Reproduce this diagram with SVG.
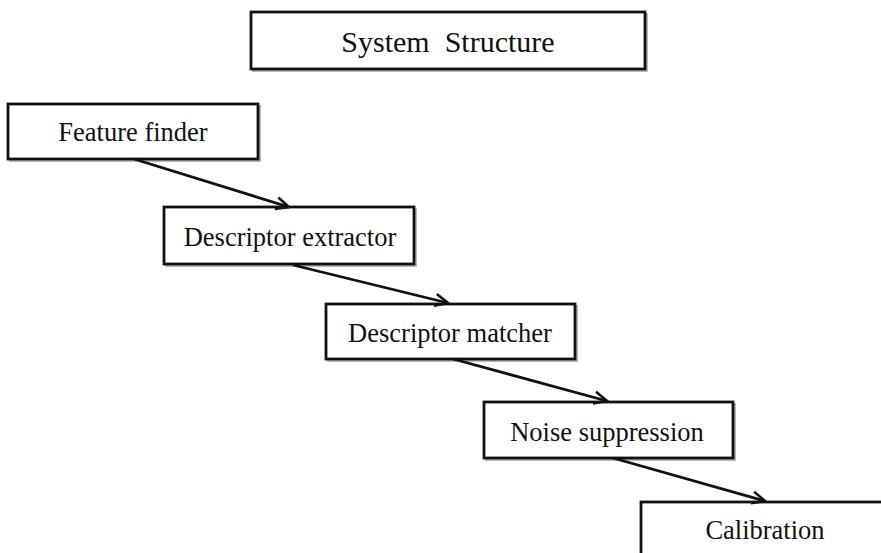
<svg xmlns="http://www.w3.org/2000/svg" width="881" height="553" viewBox="0 0 881 553">
  <style>
    .box { fill: #ffffff; stroke: #111111; stroke-width: 2.8; }
    .shadow { fill: none; stroke: #9a9a9a; stroke-width: 2; opacity: 0.7; }
    .label { font-family: "Liberation Serif", "Times New Roman", serif; font-size: 26.5px; fill: #111111; text-anchor: middle; }
    .title { font-size: 30px; }
    .edge { stroke: #111111; stroke-width: 2.8; fill: none; marker-end: url(#arrow); }
  </style>
  <defs>
    <marker id="arrow" viewBox="0 0 16 16" refX="14.5" refY="8" markerWidth="16" markerHeight="16" markerUnits="userSpaceOnUse" orient="auto">
      <path d="M1.5,2 L14.5,8 L1.5,14" fill="none" stroke="#111111" stroke-width="2.6" stroke-linejoin="miter"/>
    </marker>
  </defs>
  <rect width="881" height="553" fill="#ffffff"/>

  <!-- heading -->
  <g id="title">
    <rect class="shadow" x="253" y="14" width="394" height="57"/>
    <rect class="box" x="251" y="12" width="394" height="57"/>
    <text class="label title" x="448" y="52" xml:space="preserve">System  Structure</text>
  </g>

  <g id="feature-finder">
    <rect class="shadow" x="10" y="106" width="250" height="55"/>
    <rect class="box" x="8" y="104" width="250" height="55"/>
    <text class="label" x="133" y="141">Feature finder</text>
  </g>

  <g id="descriptor-extractor">
    <rect class="shadow" x="166" y="209" width="250" height="57"/>
    <rect class="box" x="164" y="207" width="250" height="57"/>
    <text class="label" x="290" y="246">Descriptor extractor</text>
  </g>

  <g id="descriptor-matcher">
    <rect class="shadow" x="328" y="306" width="249" height="55"/>
    <rect class="box" x="326" y="304" width="249" height="55"/>
    <text class="label" x="450" y="342">Descriptor matcher</text>
  </g>

  <g id="noise-suppression">
    <rect class="shadow" x="486" y="404" width="249" height="56"/>
    <rect class="box" x="484" y="402" width="249" height="56"/>
    <text class="label" x="607" y="441">Noise suppression</text>
  </g>

  <g id="calibration">
    <rect class="shadow" x="643" y="504" width="260" height="70"/>
    <rect class="box" x="641" y="502" width="260" height="70"/>
    <text class="label" x="765" y="539">Calibration</text>
  </g>

  <g id="connectors">
    <line class="edge" x1="134" y1="159" x2="289" y2="207"/>
    <line class="edge" x1="293" y1="265" x2="448" y2="303"/>
    <line class="edge" x1="453" y1="359" x2="607" y2="401"/>
    <line class="edge" x1="613" y1="458" x2="765" y2="501"/>
  </g>
</svg>
